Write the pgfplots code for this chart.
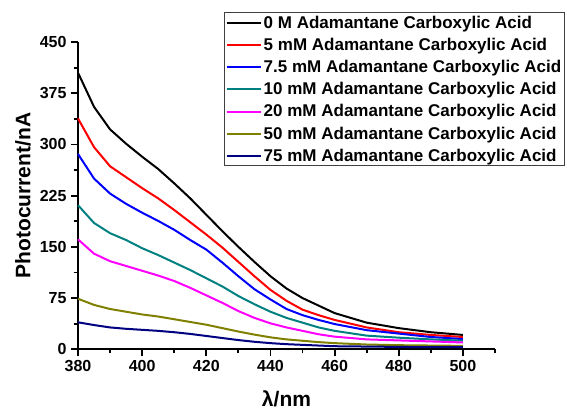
\documentclass[border=0pt]{standalone}
\usepackage{fontspec}
\setmainfont{Liberation Sans}
\usepackage{pgfplots}
\usepackage{pgfplotstable}
\pgfplotsset{compat=1.18}

\definecolor{cTeal}{HTML}{008080}
\definecolor{cOlive}{HTML}{808000}
\definecolor{cNavy}{HTML}{000080}
\definecolor{cMag}{HTML}{FF00FF}
\definecolor{cRed}{HTML}{FF0000}
\definecolor{cBlue}{HTML}{0000FF}

% photocurrent (nA) vs wavelength (nm), one column per concentration
\pgfplotstableread{
wl   c0   c5   c75  c10   c20   c50   c75m
380  405  338  286  211   161   74    39.5
385  355  296  250  185   140   65    35.5
390  322  268  228  170   129   59    32
395  301  252  213  160   122   55    30
400  282  236  200  148   115   51    28.5
405  264  221  188  138   108   48    27
410  243  204  175  127   100   44    25
415  221  186  160  116   90    40    22.5
420  197  168  146  104   79    36    19.5
425  173  149  127  92    68    31    16.5
430  150  128  107  78    56    26    13.5
435  128  107  88   66    46    21.5  11
440  107  87   73   55    38    17.5  9
445  89   71   59   46    32    14.5  7.5
450  75   58   50   39    27    12.5  6.5
455  64   50   43   32    22    10.5  5.5
460  53   43   37   27    18.5  9     4.5
470  39   32   28   20    14.5  7     4
480  31   25   23   17    13    6     3.5
490  25   21   18   14.5  11.5  5.5   3
500  21   18   15   12.5  10    5     3
}\datatable

\begin{document}
\begin{tikzpicture}
\begin{axis}[
    name=ax,
    scale only axis,
    width=417pt, height=307.3pt,
    xmin=380, xmax=510, ymin=0, ymax=450,
    axis x line*=bottom, axis y line*=left,
    axis line style={line width=2.2pt},
    xtick={380,400,...,500},
    minor xtick={390,410,...,510},
    ytick={0,75,...,450},
    minor ytick={37.5,112.5,...,450},
    tick align=outside,
    major tick length=7pt, minor tick length=4pt,
    every tick/.style={line width=1.8pt, black},
    tick label style={font=\fontsize{16}{18}\selectfont\bfseries},
    /pgf/number format/assume math mode=true,
    xticklabel style={yshift=-1pt},
    yticklabel style={xshift=-1pt},
    xlabel={λ/nm},
    ylabel={Photocurrent/nA},
    every axis x label/.style={at={([yshift=-49.7pt]axis description cs:0.5,0)}, anchor=center,
        font=\fontsize{21}{24}\selectfont\bfseries},
    every axis y label/.style={at={([xshift=-55pt]axis description cs:0,0.5)}, rotate=90, anchor=center,
        font=\fontsize{21}{24}\selectfont\bfseries},
    legend style={
        at={(0.3508,1.0967)}, anchor=north west,
        draw=black!75, line width=0.9pt,
        font=\fontsize{17}{19}\selectfont\bfseries,
        inner xsep=1pt, inner ysep=1pt,
        row sep=4.4pt,
        /tikz/every even column/.append style={column sep=0pt},
    },
    legend cell align={left},
    legend image code/.code={\draw[#1, line width=2pt] (0pt,0pt) -- (34pt,0pt);},
    every axis plot/.append style={line width=2pt},
    clip=false,
]
\addplot[black]  table[x=wl, y=c0]   {\datatable};
\addlegendentry{0 M Adamantane Carboxylic Acid}
\addplot[cRed]   table[x=wl, y=c5]   {\datatable};
\addlegendentry{5 mM Adamantane Carboxylic Acid}
\addplot[cBlue]  table[x=wl, y=c75]  {\datatable};
\addlegendentry{7.5 mM Adamantane Carboxylic Acid}
\addplot[cTeal]  table[x=wl, y=c10]  {\datatable};
\addlegendentry{10 mM Adamantane Carboxylic Acid}
\addplot[cMag]   table[x=wl, y=c20]  {\datatable};
\addlegendentry{20 mM Adamantane Carboxylic Acid}
\addplot[cOlive] table[x=wl, y=c50]  {\datatable};
\addlegendentry{50 mM Adamantane Carboxylic Acid}
\addplot[cNavy]  table[x=wl, y=c75m] {\datatable};
\addlegendentry{75 mM Adamantane Carboxylic Acid}
\end{axis}
\path ([shift={(-78pt,-58.7pt)}]ax.south west) rectangle ([shift={(72pt,42pt)}]ax.north east);
\end{tikzpicture}
\end{document}
